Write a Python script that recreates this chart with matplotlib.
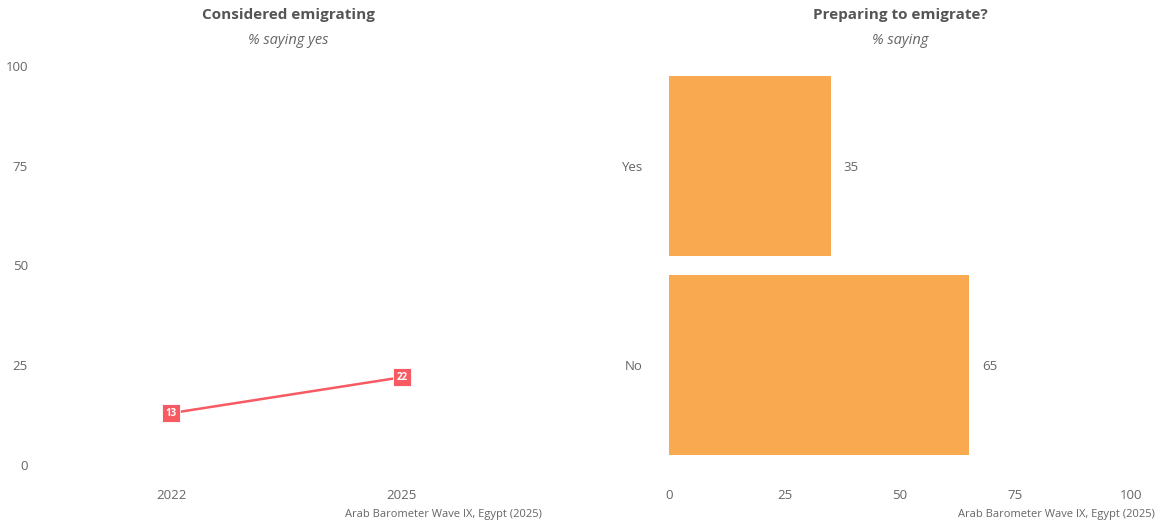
#!/usr/bin/env python3
"""Emigration intentions in Egypt: trend line plus preparation bar chart."""

import matplotlib
matplotlib.use("Agg")
import matplotlib.pyplot as plt

# Considered emigrating, % saying yes
years = [2022, 2025]
considered = [13, 22]

# Preparing to emigrate, % saying
prep_labels = ["No", "Yes"]
prep_values = [65, 35]

SOURCE = "Arab Barometer Wave IX, Egypt (2025)"
RED = "#F75A62"
ORANGE = "#F9A94F"
TITLE_GREY = "#555555"
TEXT_GREY = "#666666"

W, H = 1158, 525
plt.rcParams["font.family"] = ["Open Sans", "DejaVu Sans"]


def px(x0, y_top, x1, y_bottom):
    """Axes rectangle from pixel edges (origin top-left)."""
    return [x0 / W, 1 - y_bottom / H, (x1 - x0) / W, (y_bottom - y_top) / H]


def clean(ax):
    for side in ax.spines.values():
        side.set_visible(False)
    ax.tick_params(length=0, colors=TEXT_GREY, labelsize=9.5)


fig = plt.figure(figsize=(W / 100, H / 100), dpi=100)

# Left: line chart
ax1 = fig.add_axes(px(35, 66, 542, 465))
ax1.plot(years, considered, color=RED, lw=1.8, zorder=2)
for yr, val in zip(years, considered):
    ax1.annotate(str(val), (yr, val), ha="center", va="center", fontsize=7,
                 fontweight="bold", color="white", zorder=3,
                 bbox=dict(boxstyle="square,pad=0.35", fc=RED, ec="white", lw=0.6))
ax1.set_xlim(2020.23, 2026.82)
ax1.set_ylim(0, 100)
ax1.set_xticks(years)
ax1.set_xticklabels([str(y) for y in years])
ax1.set_yticks([0, 25, 50, 75, 100])
clean(ax1)
ax1.tick_params(axis="x", pad=17)
ax1.tick_params(axis="y", pad=5)

# Right: horizontal bars
ax2 = fig.add_axes(px(669, 66, 1131, 465))
ypos = list(range(len(prep_labels)))
ax2.barh(ypos, prep_values, height=0.9, color=ORANGE)
for y, v in zip(ypos, prep_values):
    ax2.annotate(str(v), (v, y), xytext=(9, 0), textcoords="offset points",
                 ha="left", va="center_baseline", fontsize=9.5, color=TEXT_GREY)
ax2.set_xlim(0, 100)
ax2.set_ylim(-0.5, 1.5)
ax2.set_yticks(ypos)
ax2.set_yticklabels(prep_labels)
ax2.set_xticks([0, 25, 50, 75, 100])
clean(ax2)
ax2.tick_params(axis="x", pad=17)
ax2.tick_params(axis="y", pad=19)

# Titles, subtitles and source notes
for ax, title, sub in [(ax1, "Considered emigrating", "% saying yes"),
                       (ax2, "Preparing to emigrate?", "% saying")]:
    box = ax.get_position()
    cx = (box.x0 + box.x1) / 2
    fig.text(cx, 1 - 15 / H, title, ha="center", va="center", fontsize=11,
             fontweight="bold", color=TITLE_GREY)
    fig.text(cx, 1 - 40 / H, sub, ha="center", va="center", fontsize=10.5,
             style="italic", color=TEXT_GREY)

fig.text(542 / W, 1 - 515 / H, SOURCE, ha="right", va="center", fontsize=8, color=TEXT_GREY)
fig.text(1155 / W, 1 - 515 / H, SOURCE, ha="right", va="center", fontsize=8, color=TEXT_GREY)

fig.savefig("out.png", dpi=100, facecolor="white")
